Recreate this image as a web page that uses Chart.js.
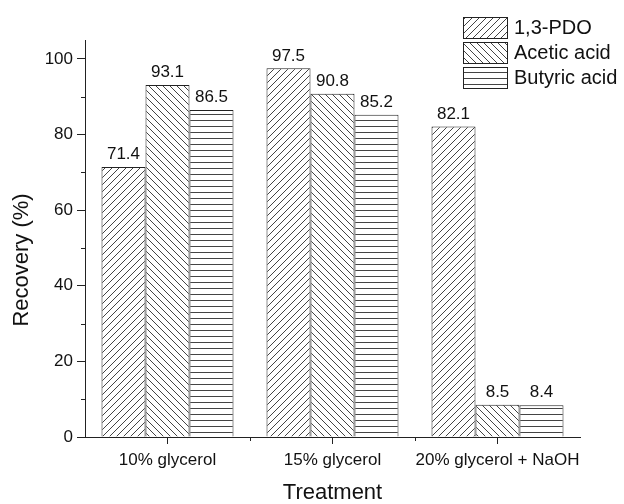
<!DOCTYPE html>
<html>
<head>
<meta charset="utf-8">
<script src="https://cdn.jsdelivr.net/npm/chart.js@4/dist/chart.umd.min.js"></script>
<style>
  body { margin: 0; background: #fff; }
  canvas { display: block; }
</style>
</head>
<body>
<canvas id="grafica" width="624" height="504"></canvas>
<script>
// datos
const tratamientos = ['10% glycerol', '15% glycerol', '20% glycerol + NaOH'];
const series = ['1,3-PDO', 'Acetic acid', 'Butyric acid'];
const pdo = [71.4, 97.5, 82.1];
const acetico = [93.1, 90.8, 8.5];
const butirico = [86.5, 85.2, 8.4];
const ticksY = [0, 20, 40, 60, 80, 100];
const ticksMenoresY = [10, 30, 50, 70, 90];
const tituloX = 'Treatment';
const tituloY = 'Recovery (%)';

const fuente = "'Liberation Sans', Arial, sans-serif";

// patrones de rayado
function rayado(tipo) {
  const s = tipo === 'h' ? 6 : 7;
  const c = document.createElement('canvas');
  c.width = s; c.height = s;
  const g = c.getContext('2d');
  g.fillStyle = '#fff';
  g.fillRect(0, 0, s, s);
  g.strokeStyle = '#444';
  g.lineWidth = 1;
  g.beginPath();
  if (tipo === '/') {
    g.moveTo(0, s); g.lineTo(s, 0);
    g.moveTo(-1, 1); g.lineTo(1, -1);
    g.moveTo(s - 1, s + 1); g.lineTo(s + 1, s - 1);
  } else if (tipo === '\\') {
    g.moveTo(0, 0); g.lineTo(s, s);
    g.moveTo(s - 1, -1); g.lineTo(s + 1, 1);
    g.moveTo(-1, s - 1); g.lineTo(1, s + 1);
  } else {
    g.moveTo(0, 0.5); g.lineTo(s, 0.5);
  }
  g.stroke();
  return g.createPattern(c, 'repeat');
}

const patrones = [rayado('/'), rayado('\\'), rayado('h')];

// leyenda vertical, etiquetas de valores, titulos y ticks menores
const extras = {
  id: 'extras',
  afterDatasetsDraw(chart) {
    const ctx = chart.ctx;
    ctx.save();
    ctx.fillStyle = '#111';
    ctx.font = '17px ' + fuente;
    ctx.textAlign = 'center';
    ctx.textBaseline = 'bottom';
    chart.data.datasets.forEach((ds, i) => {
      chart.getDatasetMeta(i).data.forEach((bar, j) => {
        ctx.fillText(ds.data[j].toFixed(1), bar.x, bar.y - 4);
      });
    });
    ctx.restore();
  },
  afterDraw(chart) {
    const ctx = chart.ctx;
    const y = chart.scales.y;
    const x = chart.scales.x;
    ctx.save();
    ctx.strokeStyle = '#222';
    ctx.lineWidth = 1;
    ctx.beginPath();
    ticksMenoresY.forEach(v => {
      const py = Math.round(y.getPixelForValue(v)) + 0.5;
      ctx.moveTo(y.right, py);
      ctx.lineTo(y.right - 4, py);
    });
    for (let k = 0; k < tratamientos.length - 1; k++) {
      const px = Math.round((x.getPixelForValue(k) + x.getPixelForValue(k + 1)) / 2) + 0.5;
      ctx.moveTo(px, x.top);
      ctx.lineTo(px, x.top + 4);
    }
    ctx.stroke();

    // titulos de ejes
    ctx.fillStyle = '#111';
    ctx.font = '22px ' + fuente;
    ctx.textAlign = 'center';
    ctx.textBaseline = 'middle';
    ctx.fillText(tituloX, (x.left + x.right) / 2, 493);
    ctx.save();
    ctx.translate(22, 260);
    ctx.rotate(-Math.PI / 2);
    ctx.fillText(tituloY, 0, 0);
    ctx.restore();

    // leyenda
    const lx = 463, ly = 17, bw = 44, bh = 21, paso = 25;
    ctx.font = '20px ' + fuente;
    ctx.textAlign = 'left';
    ctx.textBaseline = 'middle';
    chart.data.datasets.forEach((ds, i) => {
      const top = ly + i * paso;
      ctx.fillStyle = ds.backgroundColor;
      ctx.fillRect(lx, top, bw, bh);
      ctx.strokeStyle = '#222';
      ctx.strokeRect(lx + 0.5, top + 0.5, bw, bh);
      ctx.fillStyle = '#111';
      ctx.fillText(ds.label, lx + bw + 7, top + bh / 2 + 1);
    });
    ctx.restore();
  }
};

const ctx = document.getElementById('grafica').getContext('2d');

new Chart(ctx, {
  type: 'bar',
  data: {
    labels: tratamientos,
    datasets: [pdo, acetico, butirico].map((d, i) => ({
      label: series[i],
      data: d,
      backgroundColor: patrones[i],
      borderColor: '#222',
      borderWidth: 1,
      barPercentage: 1,
      categoryPercentage: 0.8
    }))
  },
  options: {
    responsive: false,
    animation: false,
    layout: { padding: { left: 0, right: 44, top: 40, bottom: 0 } },
    plugins: {
      legend: { display: false },
      tooltip: { enabled: false }
    },
    scales: {
      x: {
        afterFit: s => { s.height = 67; },
        grid: { drawOnChartArea: false, tickLength: 7, color: '#222', offset: false },
        border: { color: '#222', width: 1 },
        ticks: {
          color: '#111',
          font: { family: fuente, size: 17 },
          padding: 6,
          maxRotation: 0,
          minRotation: 0,
          autoSkip: false
        }
      },
      y: {
        min: 0,
        max: 105,
        afterFit: s => { s.width = 85; },
        afterBuildTicks: s => { s.ticks = ticksY.map(v => ({ value: v })); },
        grid: { drawOnChartArea: false, tickLength: 8, color: '#222' },
        border: { color: '#222', width: 1 },
        ticks: { color: '#111', font: { family: fuente, size: 17 }, padding: 4 }
      }
    }
  },
  plugins: [extras]
});
</script>
</body>
</html>
